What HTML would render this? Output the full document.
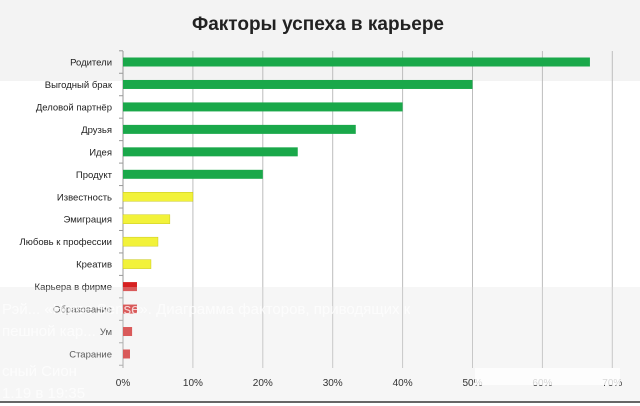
<!DOCTYPE html>
<html><head><meta charset="utf-8"><style>
body{margin:0;width:640px;height:406px;overflow:hidden;background:#fff;font-family:"Liberation Sans","Noto Sans CJK SC",sans-serif;}
svg{display:block}
</style></head><body>
<svg id="chart" width="640" height="406">
<rect x="0" y="0" width="640" height="81" fill="#f3f3f3"/>
<text x="318" y="30" text-anchor="middle" font-size="19" font-weight="bold" fill="#222">Факторы успеха в карьере</text>
<g id="grid"></g><g id="bars"></g><g id="labels"></g>
<rect x="0" y="287" width="640" height="115" fill="#e0e0e0" opacity="0.3"/>
<g opacity="0.75">
<text x="2" y="314" font-size="15" fill="#fff">Рэй... «Horse Sense». Диаграмма факторов, приводящих к</text>
<text x="2" y="336" font-size="15" fill="#fff">пешной кар...</text>
<text x="2" y="376" font-size="15" fill="#fff">сный Сион</text>
<text x="2" y="398" font-size="15" fill="#fff">1.19 в 19:35</text>
</g>
<g id="xlabels"></g>
<rect x="475" y="368" width="145" height="17" fill="#fff" opacity="0.8"/>
<line x1="0" y1="402" x2="640" y2="402" stroke="#666" stroke-width="2"/>
</svg>
<script>
const categories=["Родители","Выгодный брак","Деловой партнёр","Друзья","Идея","Продукт","Известность","Эмиграция","Любовь к профессии","Креатив","Карьера в фирме","Образование","Ум","Старание"];
const values=[66.8,50,40,33.3,25,20,10,6.7,5,4,2,2,1.3,1];
const colors=["#1aa84a","#1aa84a","#1aa84a","#1aa84a","#1aa84a","#1aa84a","#f2f23a","#f2f23a","#f2f23a","#f2f23a","#d62020","#d62020","#d62020","#d62020"];
const ticks=[0,10,20,30,40,50,60,70];
const NS="http://www.w3.org/2000/svg";
const x=v=>123+v*6.99;
const y=i=>62+i*22.46;
function mk(t,a,p){const e=document.createElementNS(NS,t);for(const k in a)e.setAttribute(k,a[k]);p.appendChild(e);return e;}
const g=document.getElementById('grid'),b=document.getElementById('bars'),l=document.getElementById('labels'),xl=document.getElementById('xlabels');
ticks.forEach(t=>{
 const ln=mk('line',{x1:x(t),x2:x(t),y1:51,y2:368,stroke:t?'#bdbdbd':'#999','stroke-width':1},g);
 
 
 const tx=mk('text',{x:x(t),y:386,'text-anchor':'middle','font-size':10,fill:'#333'},xl);
 tx.textContent=t+'%';
 
 
});
for(let i=0;i<=categories.length;i++){
 const tk=mk('line',{x1:119,x2:123,y1:y(i)-11.2,y2:y(i)-11.2,stroke:'#999'},g);
 
 
}
categories.forEach((c,i)=>{
 const r=mk('rect',{x:x(0),y:y(i)-4.5,width:x(values[i])-x(0),height:9,fill:colors[i],stroke:colors[i]==='#f2f23a'?'#c8c820':'none','stroke-width':0.5},b);
 
 
 const t=mk('text',{x:112,y:y(i)+3.5,'text-anchor':'end','font-size':9.5,fill:'#222'},l);
 t.textContent=c;
 
 
});
</script>
</body></html>
